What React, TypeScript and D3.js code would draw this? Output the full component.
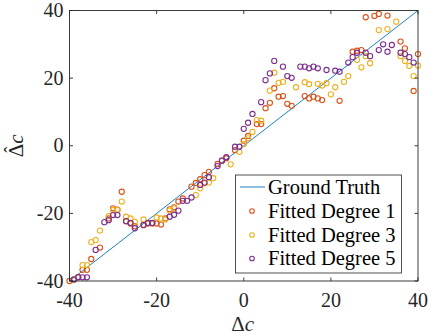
import React from "react";
import * as d3 from "d3";

// readings, [delta c, estimated delta c]
const degree1: [number, number][] = [
  [-40, -40], [-39, -39.6], [-38, -38.8], [-37, -36.7], [-36, -36.7], [-35, -33.5], [-33, -30.1],
  [-31, -21.5], [-30, -18.5], [-29, -18.9], [-28, -13.6], [-27, -22.3], [-26, -23], [-25, -23.8],
  [-23, -23.5], [-22, -23], [-21, -23], [-20, -23], [-19, -23.3], [-18, -21.5], [-17, -18.8],
  [-16, -18.2], [-15, -16.5], [-14, -15.6], [-12, -12.1], [-11, -11], [-10, -9.9], [-9, -8.7],
  [-8, -7.7], [-6, -5.4], [-5, -4.4], [-4, -3.7], [-2, -1.3], [0, 1.5], [1, 2.9], [3, 6.4],
  [4, 6.4], [5, 11.1], [6, 12.7], [7, 17], [8, 14.5], [9, 14.7], [10, 12.4], [11, 11.8],
  [14, 14.7], [15, 14], [16, 14.5], [17, 14], [18, 13.5], [22, 13.3], [25, 27.8], [26, 28.1],
  [27, 28.3], [28, 38], [30, 38.4], [31, 39], [33, 38.5], [36, 30.8], [37, 28.8], [39, 16.2],
  [40, 27.1],
];

const degree3: [number, number][] = [
  [-37, -35.3], [-36, -35.3], [-35, -28.5], [-34, -27.9], [-33, -25.1], [-31, -20.8], [-30, -19],
  [-29, -19], [-28, -16.5], [-27, -21], [-26, -21.5], [-25, -22.5], [-23, -21.8], [-20, -21.2],
  [-19, -21.5], [-18, -21.8], [-17, -19.2], [-16, -18.5], [-11, -14.6], [-10, -12.6], [-9, -11.1],
  [-8, -10.9], [-7, -9.6], [-3, -5.5], [-1, -1.8], [0, 0.5], [1, 2.2], [2, 4.1], [3, 7.6],
  [4, 7.4], [6, 16.3], [7, 21.6], [8, 18.6], [9, 18.9], [12, 17.3], [14, 18.8], [15, 18.2],
  [17, 18.3], [18, 17.8], [19, 18.5], [20, 15.2], [21, 17.3], [23, 18.9], [24, 20.6], [26, 25.4],
  [27, 23.2], [28, 26.5], [29, 24.4], [31, 34.2], [33, 34.5], [35, 36.7], [36, 26.5], [37, 25.1],
  [38, 23.6], [39, 20.6], [40, 23.7],
];

const degree5: [number, number][] = [
  [-39, -39.5], [-38, -38.9], [-37, -38.9], [-36, -38.9], [-34, -30.8], [-32, -22.6], [-31, -22],
  [-30, -20.5], [-29, -20.5], [-27, -22.3], [-26, -22.8], [-25, -24.4], [-23, -23.4], [-22, -22.8],
  [-21, -22.8], [-17, -21], [-16, -20.4], [-15, -19.2], [-14, -16.3], [-13, -16.3], [-12, -15.3],
  [-10, -11.6], [-9, -10.9], [-8, -9.3], [-6, -6], [-5, -4.4], [-4, -3.4], [-2, -0.3], [-1, -0.3],
  [0, 5], [1, 6.8], [2, 9.4], [4, 12.9], [5, 19.4], [6, 21.4], [7, 25.1], [9, 23.4], [10, 20.6],
  [11, 20.1], [13, 23.4], [14, 23.4], [15, 22.9], [16, 23.4], [17, 22.9], [19, 22.4], [21, 22.2],
  [22, 21.9], [24, 24.6], [25, 26.2], [26, 27.5], [28, 27.5], [29, 26.5], [31, 28.3], [32, 30],
  [33, 27.8], [34, 29.8], [36, 27.5], [37, 27.1], [38, 26.2], [39, 24.6],
];

const truth: [number, number][] = [[-40, -40], [40, 40]];
const ticks = [-40, -20, 0, 20, 40];
const seriesNames = ["Fitted Degree 1", "Fitted Degree 3", "Fitted Degree 5"];
const seriesColors = ["#D95319", "#EDB120", "#7E2F8E"];
const truthColor = "#0072BD";

const W = 430, H = 336;
const INK = "#262626";
const serif = { fontFamily: "Liberation Serif" };

const left = 69.5, right = 418, top = 10.5, bottom = 281;
const x = d3.scaleLinear().domain([-40, 40]).range([left, right]);
const y = d3.scaleLinear().domain([-40, 40]).range([bottom, top]);
const line = d3.line<[number, number]>().x(d => x(d[0])).y(d => y(d[1]));

export default function App() {
  const tl = 3.5;
  const rowY = [187, 211, 235, 258.5];
  const labels = ["Ground Truth", ...seriesNames];

  return (
    <svg width={W} height={H} style={{ position: "absolute", left: 0, top: 0, display: "block" }}>
      <rect width={W} height={H} fill="#fff" />
      <defs>
        <clipPath id="plotclip">
          <rect x={left - 4} y={top - 4} width={right - left + 8} height={bottom - top + 8} />
        </clipPath>
      </defs>

      <path d={line(truth) || ""} fill="none" stroke={truthColor} strokeWidth={0.9} />

      {[degree1, degree3, degree5].map((data, i) => (
        <g key={i} clipPath="url(#plotclip)">
          {data.map((d, j) => (
            <circle key={j} cx={x(d[0])} cy={y(d[1])} r={2.6} fill="none"
              stroke={seriesColors[i]} strokeWidth={1.1} />
          ))}
        </g>
      ))}

      {/* box, ticks, tick labels */}
      <rect x={left} y={top} width={right - left} height={bottom - top}
        fill="none" stroke={INK} strokeWidth={0.9} />
      {ticks.map(t => (
        <g key={t} stroke={INK} strokeWidth={0.9}>
          <line x1={x(t)} x2={x(t)} y1={bottom} y2={bottom - tl} />
          <line x1={x(t)} x2={x(t)} y1={top} y2={top + tl} />
          <line x1={left} x2={left + tl} y1={y(t)} y2={y(t)} />
          <line x1={right} x2={right - tl} y1={y(t)} y2={y(t)} />
        </g>
      ))}
      {ticks.map(t => (
        <text key={"x" + t} x={x(t)} y={bottom + 26} textAnchor="middle" fontSize={20}
          fill={INK} style={serif}>{t}</text>
      ))}
      {ticks.map(t => (
        <text key={"y" + t} x={left - 6} y={y(t) + 6.5} textAnchor="end" fontSize={20}
          fill={INK} style={serif}>{t}</text>
      ))}

      {/* axis labels */}
      <text x={(left + right) / 2 - 1} y={331} textAnchor="middle" fontSize={21} fill={INK} style={serif}>
        <tspan>Δ</tspan><tspan fontStyle="italic">c</tspan>
      </text>
      <g transform={`translate(23, ${(top + bottom) / 2}) rotate(-90)`}>
        <text x={0} y={0} textAnchor="middle" fontSize={21} fill={INK} style={serif}>
          <tspan>Δ</tspan><tspan fontStyle="italic">c</tspan>
        </text>
        <text x={-4} y={-6.5} textAnchor="middle" fontSize={18} fill={INK} style={serif}>ˆ</text>
      </g>

      {/* legend */}
      <rect x={235.5} y={175} width={166} height={98} fill="#fff" stroke={INK} strokeWidth={0.8} />
      <line x1={240} x2={265} y1={rowY[0]} y2={rowY[0]} stroke={truthColor} strokeWidth={0.9} />
      {seriesColors.map((c, i) => (
        <circle key={c} cx={252} cy={rowY[i + 1]} r={2.3} fill="none" stroke={c} strokeWidth={1.1} />
      ))}
      {labels.map((l, i) => (
        <text key={l} x={268} y={rowY[i] + 6.5} fontSize={20.5} fill="#000" style={serif}>{l}</text>
      ))}
    </svg>
  );
}
